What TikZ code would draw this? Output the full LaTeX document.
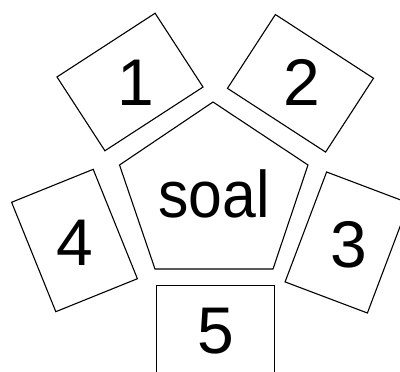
\documentclass[tikz,border=0pt]{standalone}
\usepackage{fontspec}
\setmainfont{Liberation Sans}
\begin{document}
\begin{tikzpicture}[x=1pt,y=-1pt,
  card/.style={draw=black,line width=1.1pt,inner sep=0pt,outer sep=0pt,fill=white},
  lbl/.style={inner sep=0pt,anchor=base,font=\fontsize{66}{66}\selectfont}]
\useasboundingbox (0,0) rectangle (400,372);
\clip (0,0) rectangle (400,372);
\fill[white] (0,0) rectangle (400,372);
% pentagon
\coordinate (p1) at (213,102);
\coordinate (p2) at (308,165);
\coordinate (p3) at (273,269);
\coordinate (p4) at (155,269);
\coordinate (p5) at (119.5,165);
\draw[line width=1.1pt,line join=miter] (p1) -- (p2) -- (p3) -- (p4) -- (p5) -- cycle;
\node[lbl,xscale=0.92] (soal) at (214,217) {soal};
% cards
\node[card,minimum width=117pt,minimum height=88pt,rotate=33] (b1) at (130,82) {};
\node[card,minimum width=117pt,minimum height=88pt,rotate=-33] (b2) at (300.5,83.3) {};
\node[card,minimum width=88pt,minimum height=118pt,rotate=22] (b4) at (74.5,240.5) {};
\node[card,minimum width=88pt,minimum height=117.5pt,rotate=-20.7] (b3) at (347,242.5) {};
\node[card,minimum width=117.5pt,minimum height=88pt] (b5) at (215.3,329.5) {};
\node[lbl] (t1) at (135.5,105) {1};
\node[lbl] (t2) at (302,106) {2};
\node[lbl] (t4) at (74.5,265) {4};
\node[lbl] (t3) at (348.5,267) {3};
\node[lbl] (t5) at (215.5,353) {5};
\end{tikzpicture}
\end{document}
